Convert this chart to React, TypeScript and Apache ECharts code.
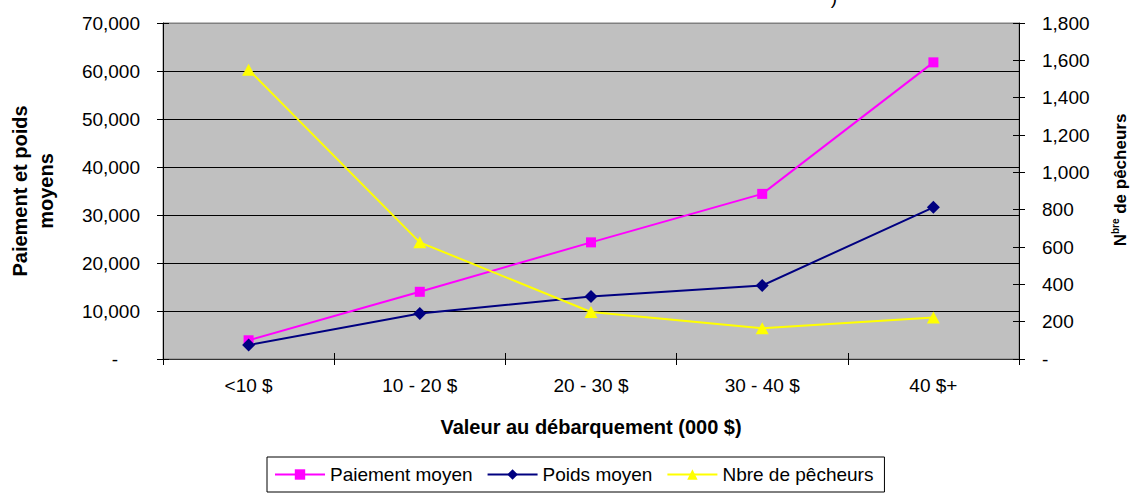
import React, { useEffect, useRef } from 'react';
import * as echarts from 'echarts';

const categories = ['<10 $', '10 - 20 $', '20 - 30 $', '30 - 40 $', '40 $+'];
const paiementMoyen = [3900, 14000, 24300, 34400, 61800];
const poidsMoyen = [2900, 9500, 13000, 15300, 31600];
const nbrePecheurs = [1550, 625, 252, 165, 222];

const leftMax = 70000;
const leftInterval = 10000;
const rightMax = 1800;
const rightInterval = 200;

const seriesNames = ['Paiement moyen', 'Poids moyen', 'Nbre de pêcheurs'];
const xAxisTitle = 'Valeur au débarquement (000 $)';
const leftAxisTitle = 'Paiement et poids\nmoyens';

const FONT = '"Liberation Sans", Arial, sans-serif';

export default function App() {
  const ref = useRef<HTMLDivElement>(null);
  useEffect(() => {
    document.body.style.margin = '0';
    const chart = echarts.init(ref.current!, null, { renderer: 'svg' });
    const fmtLeft = (v: number) => (v === 0 ? '{d|-}' : v.toLocaleString('en-US'));
    const fmtRight = (v: number) => (v === 0 ? '-' : v.toLocaleString('en-US'));
    chart.setOption({
      animation: false,
      textStyle: { fontFamily: FONT },
      grid: {
        left: 163,
        right: 118,
        top: 23,
        bottom: 134,
        show: true,
        backgroundColor: '#C0C0C0',
        borderColor: '#808080',
        borderWidth: 1,
      },
      legend: {
        data: seriesNames,
        left: 267,
        top: 457,
        itemWidth: 50,
        itemHeight: 13,
        itemGap: 14,
        padding: [8, 11, 8, 7],
        borderColor: '#000',
        borderWidth: 1,
        textStyle: { fontSize: 19, color: '#000', fontFamily: FONT },
      },
      xAxis: [
        {
          type: 'category',
          data: categories,
          position: 'bottom',
          boundaryGap: true,
          axisLine: { show: true, lineStyle: { color: '#333', width: 1 } },
          axisTick: { show: true, length: 6, lineStyle: { color: '#000' } },
          axisLabel: { fontSize: 19, color: '#000', margin: 17, fontFamily: FONT },
          splitLine: { show: false },
        },
        {
          type: 'category',
          data: categories,
          position: 'bottom',
          boundaryGap: true,
          axisLine: { show: false },
          axisTick: { show: true, inside: true, length: 6, lineStyle: { color: '#000' } },
          axisLabel: { show: false },
          splitLine: { show: false },
        },
      ],
      yAxis: [
        {
          type: 'value',
          position: 'left',
          min: 0,
          max: leftMax,
          interval: leftInterval,
          axisLine: { show: true, lineStyle: { color: '#000', width: 1 } },
          axisTick: { show: true, length: 6, lineStyle: { color: '#000' } },
          axisLabel: {
            fontSize: 19,
            color: '#000',
            margin: 23,
            fontFamily: FONT,
            formatter: fmtLeft,
            rich: { d: { fontSize: 19, color: '#000', padding: [0, 22, 0, 0], fontFamily: FONT } },
          },
          splitLine: {
            show: true,
            lineStyle: {
              color: ['#000', '#000', '#000', '#000', '#000', '#000', '#000', '#808080'],
              width: 1,
            },
          },
        },
        {
          type: 'value',
          position: 'right',
          min: 0,
          max: rightMax,
          interval: rightInterval,
          axisLine: { show: true, lineStyle: { color: '#000', width: 1 } },
          axisTick: { show: true, length: 6, lineStyle: { color: '#000' } },
          axisLabel: { fontSize: 19, color: '#000', margin: 23, fontFamily: FONT, formatter: fmtRight },
          splitLine: { show: false },
        },
        {
          type: 'value',
          position: 'left',
          min: 0,
          max: leftMax,
          interval: leftInterval,
          axisLine: { show: false },
          axisTick: { show: true, inside: true, length: 6, lineStyle: { color: '#000' } },
          axisLabel: { show: false },
          splitLine: { show: false },
        },
        {
          type: 'value',
          position: 'right',
          min: 0,
          max: rightMax,
          interval: rightInterval,
          axisLine: { show: false },
          axisTick: { show: true, inside: true, length: 6, lineStyle: { color: '#000' } },
          axisLabel: { show: false },
          splitLine: { show: false },
        },
      ],
      graphic: [
        {
          type: 'text',
          x: 33,
          y: 191,
          rotation: Math.PI / 2,
          style: {
            text: leftAxisTitle,
            fontSize: 20,
            fontWeight: 'bold',
            fontFamily: FONT,
            fill: '#000',
            align: 'center',
            verticalAlign: 'middle',
            lineHeight: 26,
          },
        },
        {
          type: 'text',
          x: 1120,
          y: 180,
          rotation: Math.PI / 2,
          style: {
            text: '{n|N}{s|bre}{n| de pêcheurs}',
            align: 'center',
            verticalAlign: 'middle',
            rich: {
              n: { fontSize: 17, fontWeight: 'bold', fontFamily: FONT, fill: '#000', lineHeight: 20 },
              s: { fontSize: 10, fontWeight: 'bold', fontFamily: FONT, fill: '#000', verticalAlign: 'top', lineHeight: 20 },
            },
          },
        },
        {
          type: 'text',
          x: 591,
          y: 427,
          style: {
            text: xAxisTitle,
            fontSize: 20,
            fontWeight: 'bold',
            fontFamily: FONT,
            fill: '#000',
            align: 'center',
            verticalAlign: 'middle',
          },
        },
        {
          type: 'text',
          x: 834,
          y: -3,
          style: {
            text: ')',
            fontSize: 19,
            fontFamily: FONT,
            fill: '#000',
            align: 'center',
            verticalAlign: 'middle',
          },
        },
      ],
      series: [
        {
          name: seriesNames[0],
          type: 'line',
          xAxisIndex: 0,
          yAxisIndex: 0,
          data: paiementMoyen,
          symbol: 'rect',
          symbolSize: 10,
          lineStyle: { color: '#FF00FF', width: 2 },
          itemStyle: { color: '#FF00FF' },
        },
        {
          name: seriesNames[1],
          type: 'line',
          xAxisIndex: 0,
          yAxisIndex: 0,
          data: poidsMoyen,
          symbol: 'diamond',
          symbolSize: 13,
          lineStyle: { color: '#000080', width: 2 },
          itemStyle: { color: '#000080' },
        },
        {
          name: seriesNames[2],
          type: 'line',
          xAxisIndex: 0,
          yAxisIndex: 1,
          data: nbrePecheurs,
          symbol: 'triangle',
          symbolSize: [13, 12],
          lineStyle: { color: '#FFFF00', width: 2 },
          itemStyle: { color: '#FFFF00' },
        },
      ],
    });
    return () => chart.dispose();
  }, []);
  return <div ref={ref} style={{ width: 1137, height: 493 }} />;
}
